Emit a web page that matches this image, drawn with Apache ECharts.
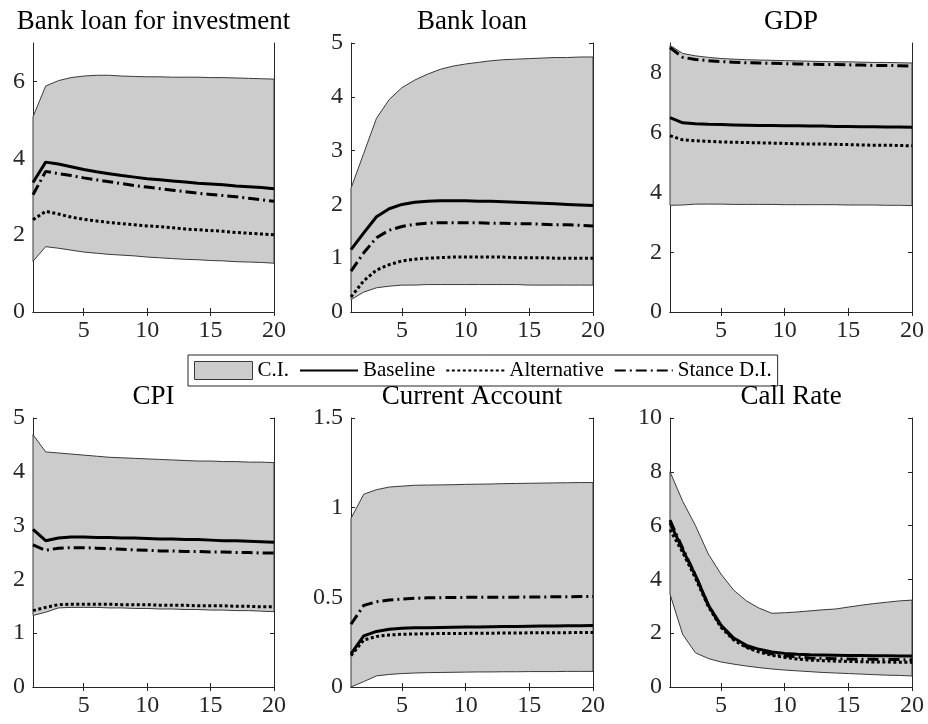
<!DOCTYPE html>
<html>
<head>
<meta charset="utf-8">
<script src="https://cdn.jsdelivr.net/npm/echarts@6/dist/echarts.min.js"></script>
<style>
  html, body { margin: 0; padding: 0; background: #ffffff; }
  #chart { width: 928px; height: 724px; }
</style>
</head>
<body>
<div id="chart"></div>
<script>
// Forecast horizon (quarters)
const horizons = [1, 2, 3, 4, 5, 6, 7, 8, 9, 10, 11, 12, 13, 14, 15, 16, 17, 18, 19, 20];
const xTicks = [5, 10, 15, 20];

// Bank loan for investment
const invLower  = [1.32, 1.70, 1.66, 1.61, 1.56, 1.53, 1.50, 1.48, 1.46, 1.43, 1.41, 1.39, 1.37, 1.36, 1.34, 1.33, 1.31, 1.30, 1.29, 1.27];
const invUpper  = [5.08, 5.88, 6.02, 6.10, 6.14, 6.16, 6.16, 6.14, 6.13, 6.12, 6.12, 6.11, 6.11, 6.11, 6.10, 6.10, 6.09, 6.08, 6.07, 6.06];
const invBase   = [3.37, 3.90, 3.85, 3.78, 3.71, 3.65, 3.60, 3.55, 3.51, 3.47, 3.44, 3.41, 3.38, 3.35, 3.33, 3.31, 3.28, 3.26, 3.24, 3.21];
const invAlt    = [2.40, 2.62, 2.55, 2.47, 2.41, 2.37, 2.33, 2.30, 2.27, 2.24, 2.22, 2.19, 2.16, 2.14, 2.12, 2.10, 2.07, 2.05, 2.03, 2.01];
const invStance = [3.05, 3.66, 3.60, 3.55, 3.49, 3.44, 3.39, 3.34, 3.29, 3.25, 3.21, 3.17, 3.13, 3.09, 3.06, 3.03, 3.00, 2.96, 2.92, 2.88];
const invTicks  = [0, 2, 4, 6];

// Bank loan
const loanLower  = [0.23, 0.37, 0.45, 0.48, 0.50, 0.50, 0.51, 0.51, 0.51, 0.51, 0.51, 0.51, 0.51, 0.51, 0.50, 0.50, 0.50, 0.50, 0.50, 0.50];
const loanUpper  = [2.30, 2.95, 3.60, 3.95, 4.17, 4.31, 4.42, 4.51, 4.57, 4.61, 4.64, 4.67, 4.69, 4.70, 4.71, 4.72, 4.73, 4.73, 4.74, 4.74];
const loanBase   = [1.16, 1.47, 1.77, 1.92, 2.00, 2.04, 2.06, 2.07, 2.07, 2.07, 2.06, 2.06, 2.05, 2.04, 2.03, 2.02, 2.01, 2.00, 1.99, 1.98];
const loanAlt    = [0.28, 0.58, 0.78, 0.88, 0.95, 0.98, 1.00, 1.01, 1.02, 1.02, 1.02, 1.02, 1.02, 1.01, 1.01, 1.01, 1.00, 1.00, 1.00, 1.00];
const loanStance = [0.76, 1.10, 1.38, 1.52, 1.59, 1.63, 1.65, 1.66, 1.66, 1.66, 1.66, 1.65, 1.65, 1.64, 1.64, 1.63, 1.62, 1.62, 1.61, 1.60];
const loanTicks  = [0, 1, 2, 3, 4, 5];

// GDP
const gdpLower  = [3.57, 3.58, 3.61, 3.61, 3.61, 3.60, 3.60, 3.60, 3.60, 3.59, 3.59, 3.59, 3.59, 3.59, 3.58, 3.58, 3.58, 3.57, 3.57, 3.56];
const gdpUpper  = [8.92, 8.65, 8.57, 8.52, 8.48, 8.46, 8.44, 8.43, 8.42, 8.41, 8.40, 8.39, 8.38, 8.37, 8.37, 8.36, 8.35, 8.35, 8.34, 8.33];
const gdpBase   = [6.50, 6.33, 6.30, 6.28, 6.27, 6.26, 6.25, 6.24, 6.24, 6.23, 6.23, 6.22, 6.22, 6.21, 6.21, 6.20, 6.20, 6.19, 6.19, 6.18];
const gdpAlt    = [5.90, 5.76, 5.73, 5.71, 5.69, 5.68, 5.67, 5.66, 5.65, 5.64, 5.63, 5.62, 5.62, 5.61, 5.60, 5.59, 5.58, 5.58, 5.57, 5.56];
const gdpStance = [8.85, 8.52, 8.45, 8.41, 8.38, 8.36, 8.34, 8.33, 8.32, 8.31, 8.30, 8.29, 8.28, 8.28, 8.27, 8.26, 8.25, 8.25, 8.24, 8.23];
const gdpTicks  = [0, 2, 4, 6, 8];

// CPI
const cpiLower  = [1.33, 1.39, 1.47, 1.48, 1.48, 1.48, 1.47, 1.47, 1.46, 1.46, 1.45, 1.45, 1.44, 1.44, 1.43, 1.43, 1.42, 1.42, 1.41, 1.40];
const cpiUpper  = [4.69, 4.37, 4.35, 4.33, 4.31, 4.29, 4.27, 4.26, 4.25, 4.24, 4.23, 4.22, 4.21, 4.20, 4.20, 4.19, 4.19, 4.18, 4.18, 4.17];
const cpiBase   = [2.93, 2.72, 2.77, 2.79, 2.79, 2.78, 2.78, 2.77, 2.77, 2.76, 2.75, 2.75, 2.74, 2.74, 2.73, 2.72, 2.72, 2.71, 2.70, 2.69];
const cpiAlt    = [1.42, 1.48, 1.53, 1.54, 1.54, 1.54, 1.54, 1.53, 1.53, 1.53, 1.52, 1.52, 1.52, 1.51, 1.51, 1.51, 1.50, 1.50, 1.49, 1.49];
const cpiStance = [2.64, 2.54, 2.58, 2.59, 2.59, 2.58, 2.57, 2.56, 2.55, 2.54, 2.53, 2.53, 2.52, 2.52, 2.51, 2.51, 2.50, 2.50, 2.49, 2.49];
const cpiTicks  = [0, 1, 2, 3, 4, 5];

// Current Account
const caLower  = [0.000, 0.030, 0.062, 0.070, 0.075, 0.078, 0.080, 0.081, 0.082, 0.083, 0.084, 0.084, 0.085, 0.085, 0.086, 0.086, 0.086, 0.087, 0.087, 0.087];
const caUpper  = [0.940, 1.075, 1.100, 1.115, 1.120, 1.125, 1.126, 1.127, 1.128, 1.130, 1.131, 1.132, 1.134, 1.135, 1.136, 1.137, 1.138, 1.139, 1.140, 1.140];
const caBase   = [0.185, 0.285, 0.310, 0.322, 0.327, 0.330, 0.331, 0.332, 0.333, 0.334, 0.335, 0.336, 0.337, 0.338, 0.339, 0.340, 0.340, 0.341, 0.342, 0.343];
const caAlt    = [0.175, 0.262, 0.282, 0.290, 0.294, 0.296, 0.297, 0.298, 0.299, 0.299, 0.300, 0.300, 0.301, 0.301, 0.302, 0.302, 0.303, 0.303, 0.304, 0.304];
const caStance = [0.350, 0.455, 0.475, 0.485, 0.490, 0.495, 0.497, 0.498, 0.499, 0.500, 0.500, 0.500, 0.501, 0.501, 0.502, 0.502, 0.503, 0.503, 0.504, 0.504];
const caTicks  = [0, 0.5, 1, 1.5];

// Call Rate
const callLower  = [3.45, 1.95, 1.27, 1.06, 0.93, 0.85, 0.78, 0.72, 0.67, 0.63, 0.60, 0.57, 0.54, 0.52, 0.50, 0.48, 0.46, 0.44, 0.43, 0.41];
const callUpper  = [8.00, 6.90, 6.00, 4.95, 4.20, 3.60, 3.20, 2.93, 2.74, 2.76, 2.79, 2.83, 2.87, 2.90, 2.97, 3.04, 3.10, 3.15, 3.20, 3.23];
const callBase   = [6.10, 5.10, 4.15, 3.05, 2.30, 1.82, 1.55, 1.40, 1.30, 1.25, 1.22, 1.20, 1.19, 1.18, 1.17, 1.17, 1.16, 1.16, 1.15, 1.15];
const callAlt    = [5.85, 5.00, 4.05, 3.00, 2.22, 1.75, 1.47, 1.30, 1.18, 1.10, 1.04, 1.00, 0.98, 0.96, 0.95, 0.94, 0.93, 0.93, 0.92, 0.92];
const callStance = [6.20, 5.15, 4.15, 3.05, 2.27, 1.78, 1.50, 1.34, 1.23, 1.16, 1.11, 1.08, 1.06, 1.05, 1.04, 1.03, 1.03, 1.02, 1.02, 1.01];
const callTicks  = [0, 2, 4, 6, 8, 10];

const panelTitles = ['Bank loan for investment', 'Bank loan', 'GDP', 'CPI', 'Current Account', 'Call Rate'];
const yMaxima = [7, 5, 9, 5, 1.5, 10];
const legendNames = ['C.I.', 'Baseline', 'Alternative', 'Stance D.I.'];

const panels = [
  { lower: invLower,  upper: invUpper,  base: invBase,  alt: invAlt,  stance: invStance,  ticks: invTicks },
  { lower: loanLower, upper: loanUpper, base: loanBase, alt: loanAlt, stance: loanStance, ticks: loanTicks },
  { lower: gdpLower,  upper: gdpUpper,  base: gdpBase,  alt: gdpAlt,  stance: gdpStance,  ticks: gdpTicks },
  { lower: cpiLower,  upper: cpiUpper,  base: cpiBase,  alt: cpiAlt,  stance: cpiStance,  ticks: cpiTicks },
  { lower: caLower,   upper: caUpper,   base: caBase,   alt: caAlt,   stance: caStance,   ticks: caTicks },
  { lower: callLower, upper: callUpper, base: callBase, alt: callAlt, stance: callStance, ticks: callTicks }
];

// Subplot placement (pixels)
const colLeft = [33, 351, 670];
const colWidth = [241, 242, 242];
const rowTop = [43, 418];
const plotHeight = 269;

const FONT = "'Liberation Serif', 'Times New Roman', serif";
const AXIS_COLOR = '#262626';
const BAND_FILL = '#cccccc';
const BAND_EDGE = '#3a3a3a';

const pairs = (ys) => horizons.map((h, k) => [h, ys[k]]);

// Shaded confidence band: one polygon through the upper bound and back along the lower bound
function bandRenderer(lower, upper) {
  return function (params, api) {
    if (params.dataIndex !== 0) return null;
    const pts = [];
    for (let k = 0; k < horizons.length; k++) pts.push(api.coord([horizons[k], upper[k]]));
    for (let k = horizons.length - 1; k >= 0; k--) pts.push(api.coord([horizons[k], lower[k]]));
    return {
      type: 'polygon',
      shape: { points: pts },
      style: { fill: BAND_FILL, stroke: BAND_EDGE, lineWidth: 1 }
    };
  };
}

const grids = [], xAxes = [], yAxes = [], titles = [], series = [];

panels.forEach((p, i) => {
  const col = i % 3, row = Math.floor(i / 3);
  const left = colLeft[col], width = colWidth[col], top = rowTop[row];
  grids.push({ left: left, top: top, width: width, height: plotHeight });

  const lineAxis = { show: true, lineStyle: { color: AXIS_COLOR, width: 1 } };
  const tick = (vals) => ({ show: true, inside: true, length: 4, customValues: vals, lineStyle: { color: AXIS_COLOR, width: 1 } });

  // bottom + mirrored top x axis
  xAxes.push({
    type: 'value', gridIndex: i, min: 1, max: 20, position: 'bottom',
    axisLine: lineAxis, axisTick: tick(xTicks), splitLine: { show: false },
    axisLabel: { customValues: xTicks, fontFamily: FONT, fontSize: 24, color: AXIS_COLOR, margin: 7 }
  });
  xAxes.push({
    type: 'value', gridIndex: i, min: 1, max: 20, position: 'top',
    axisLine: lineAxis, axisTick: tick(xTicks), splitLine: { show: false },
    axisLabel: { show: false }
  });
  // left + mirrored right y axis
  yAxes.push({
    type: 'value', gridIndex: i, min: 0, max: yMaxima[i], position: 'left',
    axisLine: lineAxis, axisTick: tick(p.ticks), splitLine: { show: false },
    axisLabel: { customValues: p.ticks, fontFamily: FONT, fontSize: 24, color: AXIS_COLOR, margin: 8 }
  });
  yAxes.push({
    type: 'value', gridIndex: i, min: 0, max: yMaxima[i], position: 'right',
    axisLine: lineAxis, axisTick: tick(p.ticks), splitLine: { show: false },
    axisLabel: { show: false }
  });

  titles.push({
    text: panelTitles[i], left: left + width / 2, top: top - 35, textAlign: 'center', padding: 0,
    textStyle: { fontFamily: FONT, fontSize: 27, fontWeight: 'normal', color: '#000000' }
  });

  const xi = i * 2, yi = i * 2;
  const common = { xAxisIndex: xi, yAxisIndex: yi, silent: true, animation: false };

  series.push(Object.assign({}, common, {
    type: 'custom', name: legendNames[0],
    data: horizons.map((h, k) => [h, p.lower[k], p.upper[k]]),
    encode: { x: 0, y: [1, 2] },
    renderItem: bandRenderer(p.lower, p.upper),
    itemStyle: { color: BAND_FILL, borderColor: BAND_EDGE, borderWidth: 1 },
    z: 2
  }));
  series.push(Object.assign({}, common, {
    type: 'line', name: legendNames[1], data: pairs(p.base), symbol: 'none',
    lineStyle: { color: '#000000', width: 3, type: 'solid' }, itemStyle: { color: '#000000' }, z: 3
  }));
  series.push(Object.assign({}, common, {
    type: 'line', name: legendNames[2], data: pairs(p.alt), symbol: 'none',
    lineStyle: { color: '#000000', width: 3, type: [3, 2.5] }, itemStyle: { color: '#000000' }, z: 3
  }));
  series.push(Object.assign({}, common, {
    type: 'line', name: legendNames[3], data: pairs(p.stance), symbol: 'none',
    lineStyle: { color: '#000000', width: 3, type: [11, 4, 2, 4] }, itemStyle: { color: '#000000' }, z: 3
  }));
});

const chart = echarts.init(document.getElementById('chart'), null, { renderer: 'canvas' });
chart.setOption({
  animation: false,
  backgroundColor: '#ffffff',
  title: titles,
  grid: grids,
  xAxis: xAxes,
  yAxis: yAxes,
  legend: {
    left: 188, top: 355, orient: 'horizontal',
    itemWidth: 58, itemHeight: 18, itemGap: 10,
    padding: [5, 6, 5, 6],
    borderColor: AXIS_COLOR, borderWidth: 1, backgroundColor: '#ffffff',
    selectedMode: false,
    textStyle: { fontFamily: FONT, fontSize: 21, color: '#000000' },
    itemStyle: { opacity: 0 },
    data: [
      { name: legendNames[0], icon: 'rect', itemStyle: { color: BAND_FILL, borderColor: BAND_EDGE, borderWidth: 1, opacity: 1 } },
      { name: legendNames[1] },
      { name: legendNames[2] },
      { name: legendNames[3] }
    ]
  },
  series: series
});
</script>
</body>
</html>
